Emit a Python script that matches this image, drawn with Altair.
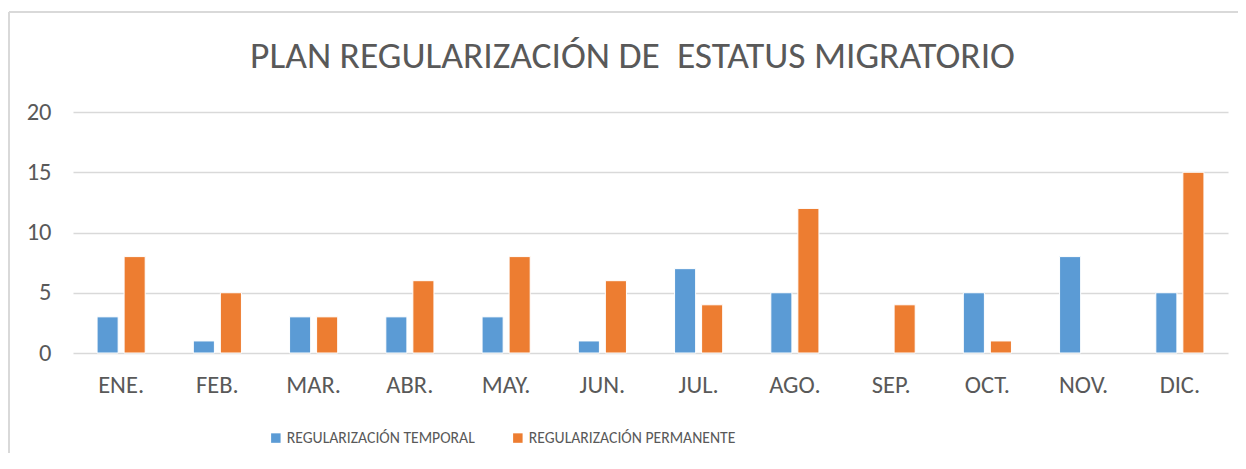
import altair as alt
import pandas as pd

months = ["ENE.", "FEB.", "MAR.", "ABR.", "MAY.", "JUN.", "JUL.", "AGO.", "SEP.", "OCT.", "NOV.", "DIC."]
series = ["REGULARIZACIÓN TEMPORAL", "REGULARIZACIÓN PERMANENTE"]
temporal = [3, 1, 3, 3, 3, 1, 7, 5, 0, 5, 8, 5]
permanente = [8, 5, 3, 6, 8, 6, 4, 12, 4, 1, 0, 15]
colors = ["#5B9BD5", "#ED7D31"]
y_ticks = [0, 5, 10, 15, 20]

rows = []
for m, t, p in zip(months, temporal, permanente):
    rows.append({"mes": m, "serie": series[0], "valor": t})
    rows.append({"mes": m, "serie": series[1], "valor": p})
df = pd.DataFrame(rows)

FONT = "Carlito, 'Liberation Sans Narrow', 'Open Sans', sans-serif"
TXT = "#595959"

bars = alt.Chart(df).mark_bar(stroke="white", strokeWidth=1).encode(
    x=alt.X("mes:N", sort=months, title=None,
            scale=alt.Scale(domain=months, paddingInner=0.5, paddingOuter=0.25),
            axis=alt.Axis(labelAngle=0, domain=False, ticks=False, labelPadding=20,
                          labelFontSize=24.5, labelColor=TXT, labelFont=FONT)),
    xOffset=alt.XOffset("serie:N", sort=series,
                        scale=alt.Scale(domain=series, paddingInner=0.22, paddingOuter=0)),
    y=alt.Y("valor:Q", title=None,
            scale=alt.Scale(domain=[0, 20], nice=False),
            axis=alt.Axis(values=y_ticks, domain=False, ticks=False, labelPadding=22,
                          labelFontSize=24.5, labelColor=TXT, labelFont=FONT,
                          gridColor="#D9D9D9", gridWidth=1.3)),
    color=alt.Color("serie:N", sort=series,
                    scale=alt.Scale(domain=series, range=colors),
                    legend=alt.Legend(title=None, orient="none", direction="horizontal",
                                      legendX=195, legendY=318, symbolType="square",
                                      symbolSize=90, symbolStrokeWidth=0,
                                      labelFontSize=15.7, labelColor=TXT, labelFont=FONT,
                                      labelOffset=3, columnPadding=35, labelLimit=400)),
).transform_filter(alt.datum.valor > 0)

border = alt.Chart(pd.DataFrame({"k": [0]})).mark_rule(color="#D9D9D9", strokeWidth=2).encode(
    x=alt.value(-64), y=alt.value(-100), y2=alt.value(360)
)
border_top = alt.Chart(pd.DataFrame({"k": [0]})).mark_rule(color="#D9D9D9", strokeWidth=2).encode(
    x=alt.value(-64), x2=alt.value(1180), y=alt.value(-100)
)

chart = alt.layer(border, border_top, bars).properties(
    width=1155, height=241,
    title=alt.TitleParams("PLAN REGULARIZACIÓN DE\u00a0 ESTATUS MIGRATORIO", anchor="middle",
                          dx=-18, offset=0, dy=94, baseline="alphabetic", fontSize=37.5,
                          font=FONT, fontWeight="normal", color=TXT),
    autosize=alt.AutoSizeParams(type="none"),
    padding={"left": 65, "top": 104, "right": 10, "bottom": 100},
).configure_view(stroke=None)

chart.save("out.html", embed_options={"renderer": "svg", "actions": False})
